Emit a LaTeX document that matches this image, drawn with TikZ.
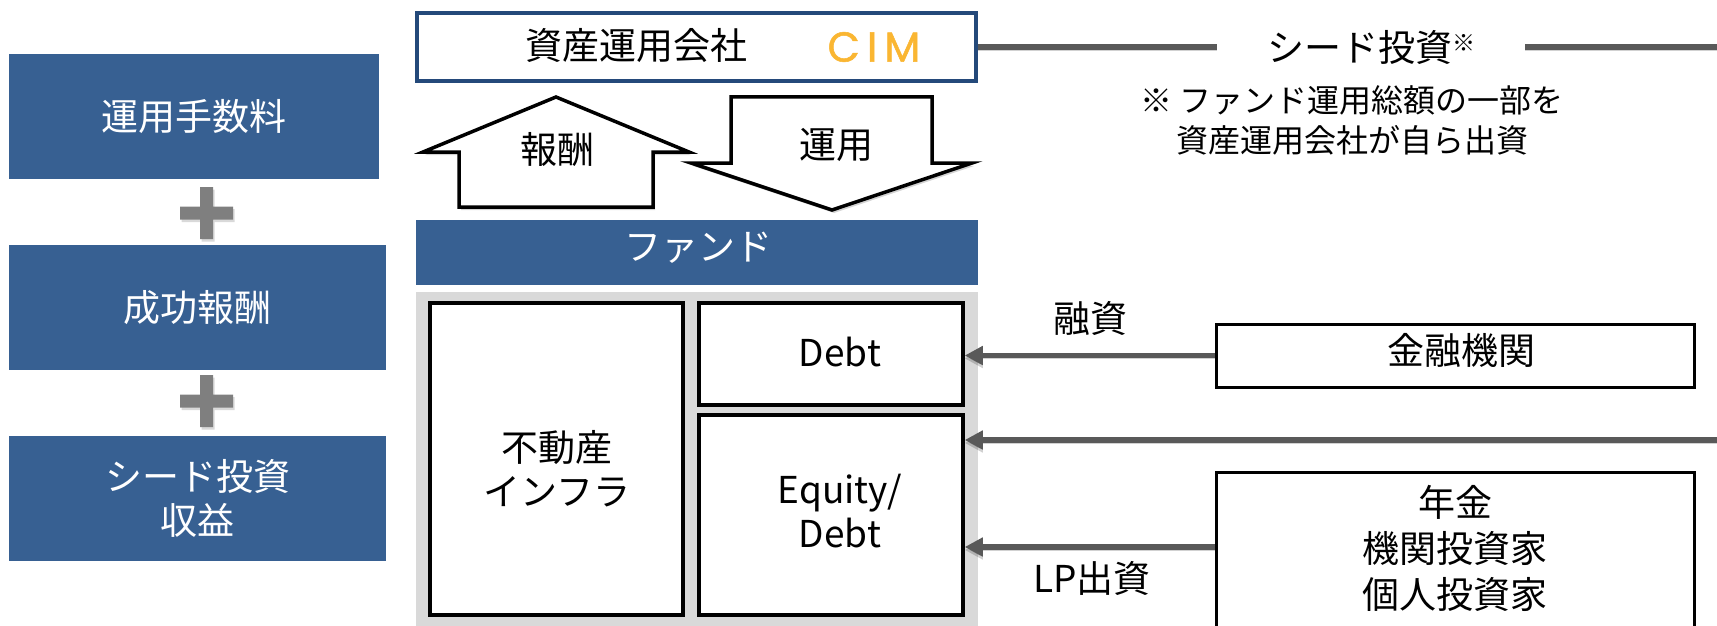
\documentclass[tikz,border=0pt]{standalone}
\usepackage{fontspec}
\setmainfont{Noto Sans CJK JP}
\newfontfamily\cimfont{Poppins}[FakeBold=1.2]
\usetikzlibrary{arrows.meta,shadows}
\definecolor{boxblue}{RGB}{55,96,146}
\definecolor{cimblue}{RGB}{36,73,122}
\definecolor{cimgold}{RGB}{250,182,50}
\definecolor{linegray}{RGB}{89,89,89}
\definecolor{panelgray}{RGB}{217,217,217}
\definecolor{plusgray}{RGB}{127,127,127}
\tikzset{
  base/.style={font=\fontsize{37}{44}\selectfont, inner sep=0pt, align=center, rectangle},
  bluebox/.style={base, fill=boxblue, text=white, draw=none},
  whitebox/.style={base, fill=white, draw=black, line width=3.5pt},
  txt/.style={base},
  notetxt/.style={base, font=\fontsize{32}{40}\selectfont},
  conn/.style={draw=linegray, line width=5.5pt,
    preaction={draw=black, opacity=0.18, transform canvas={yshift=-3pt}}},
  flow/.style={conn, -{Triangle[length=18pt,width=18pt]}},
  blockarrow/.style={draw=black, line width=3.5pt, fill=white, line join=miter,
    drop shadow={shadow xshift=2pt, shadow yshift=-3pt, opacity=0.35}},
}
\begin{document}
\begin{tikzpicture}[x=1pt,y=-1pt]
\useasboundingbox (0,0) rectangle (1717,626);

% left revenue boxes
\node[bluebox, minimum width=370pt, minimum height=125pt] (fee1) at (194,116.5) {運用手数料};
\node[bluebox, minimum width=377pt, minimum height=125pt] (fee2) at (197.5,307.5) {成功報酬};
\node[bluebox, minimum width=377pt, minimum height=125pt] (fee3) at (197.5,498.5) {シード投資\\収益};

% plus signs
\foreach \py in {213,401}{
  \fill[plusgray, drop shadow={shadow xshift=1.5pt, shadow yshift=-2.5pt, opacity=0.3}]
    (200,\py-26) -- (213,\py-26) -- (213,\py-6.5) -- (233,\py-6.5) -- (233,\py+6.5)
    -- (213,\py+6.5) -- (213,\py+26) -- (200,\py+26) -- (200,\py+6.5) -- (180,\py+6.5)
    -- (180,\py-6.5) -- (200,\py-6.5) -- cycle;
}

% asset management company
\node[base, draw=cimblue, line width=4pt, fill=white, minimum width=559pt, minimum height=68pt] (cim) at (696.5,47) {};
\node[txt] (cimname) at (636,46) {資産運用会社};
\node[base, font=\cimfont\fontsize{42}{42}\selectfont, text=cimgold] (cimlogo) at (874,47) {C\hspace{7pt}I\hspace{7pt}M};

% seed investment line
\node[txt, minimum width=308pt, minimum height=40pt] (seed) at (1371,47) {シード投資\raisebox{10pt}{\fontsize{23}{23}\selectfont ※}};
\coordinate (railend) at (1717,47);
\draw[conn] (cim.east) -- (seed.west);
\draw[conn] (seed.east) -- (railend);
\node[notetxt] (note) at (1352,120) {※ ファンド運用総額の一部を\\資産運用会社が自ら出資};

% block arrows
\draw[blockarrow] (459,207) -- (459,152) -- (423,152) -- (556,97) -- (689,152) -- (653,152) -- (653,207) -- cycle;
\node[txt] (payt) at (557,150) {報酬};
\draw[blockarrow] (731,97) -- (932,97) -- (932,163) -- (972,163) -- (832,210) -- (691,163) -- (731,163) -- cycle;
\node[txt] (opt) at (836,145) {運用};

% fund
\node[bluebox, minimum width=562pt, minimum height=65pt] (fund) at (697,252.5) {};
\node[txt, text=white] (fundt) at (698,248) {ファンド};
\node[base, fill=panelgray, minimum width=562pt, minimum height=348pt] (panel) at (697,466) {};
\node[whitebox, minimum width=253pt, minimum height=312pt] (realty) at (556.5,459) {};
\node[txt] (realtyt) at (557,469) {不動産\\インフラ};
\node[whitebox, minimum width=264pt, minimum height=102pt] (debt) at (831,354) {};
\node[txt] (debtt) at (840,352) {Debt};
\node[whitebox, minimum width=264pt, minimum height=200pt] (equity) at (831,515) {};
\node[txt] (equityt) at (840,511) {Equity/\\Debt};

% right side providers
\node[whitebox, line width=3pt, minimum width=478pt, minimum height=63pt] (bank) at (1455,355.5) {};
\node[txt] (bankt) at (1461,350) {金融機関};
\node[whitebox, line width=3pt, minimum width=478pt, minimum height=168pt] (inv) at (1455,556) {};
\node[txt, font=\fontsize{37}{46}\selectfont] (invt) at (1455,548) {年金\\機関投資家\\個人投資家};

% flows into the fund
\draw[flow] (bank.west) -- (bank.west -| debt.east);
\coordinate (rin) at (1717,440);
\draw[flow] (rin) -- (rin -| equity.east);
\coordinate (lpy) at (0,547);
\coordinate (lpstart) at (inv.west |- lpy);
\draw[flow] (lpstart) -- (lpstart -| equity.east);
\node[txt] (yushi) at (1090,318) {融資};
\node[txt] (lp) at (1092,578) {LP出資};
\end{tikzpicture}
\end{document}
